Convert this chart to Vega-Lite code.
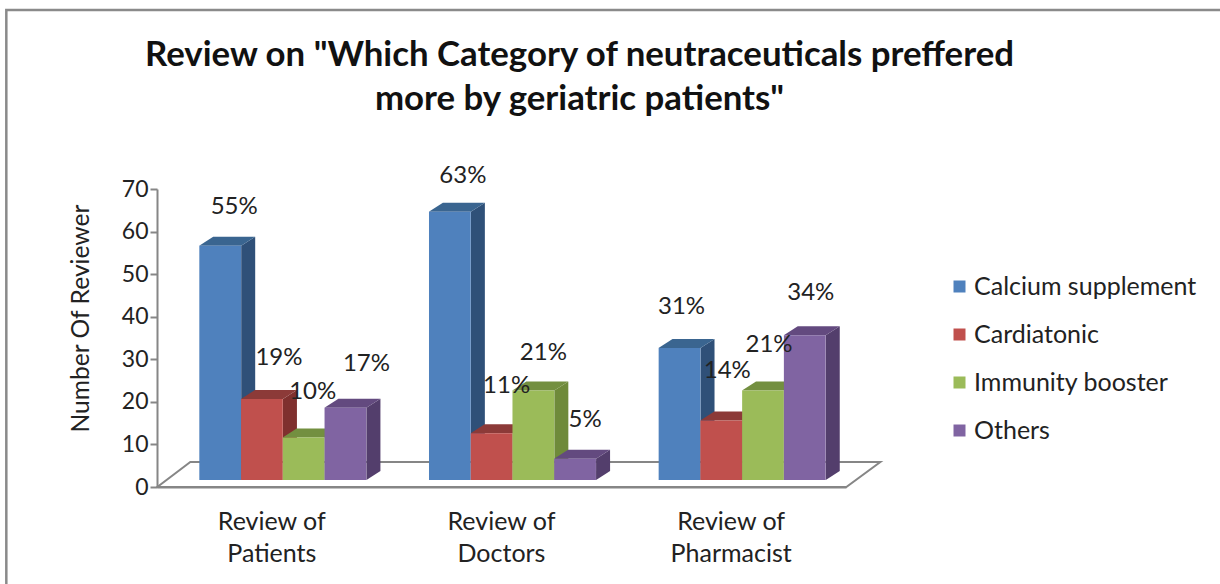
{
"$schema":"https://vega.github.io/schema/vega-lite/v6.json",
"width":689,"height":298,
"autosize":{"type":"none"},
"padding":{"left":157,"top":189,"right":374,"bottom":97},
"background":"white",
"title":{"text":["Review on \"Which Category of neutraceuticals preffered","more by geriatric patients\""],"font":"Lato","fontWeight":"bold","fontSize":34.8,"lineHeight":44,"color":"#111111","anchor":"middle","dx":78,"offset":-113},
"config":{"view":{"stroke":null},"font":"Lato"},
"data":{"values":[
{"group":"Review of Patients","series":"Calcium supplement","reviewers":55,"label":"55%"},
{"group":"Review of Patients","series":"Cardiatonic","reviewers":19,"label":"19%"},
{"group":"Review of Patients","series":"Immunity booster","reviewers":10,"label":"10%"},
{"group":"Review of Patients","series":"Others","reviewers":17,"label":"17%"},
{"group":"Review of Doctors","series":"Calcium supplement","reviewers":63,"label":"63%"},
{"group":"Review of Doctors","series":"Cardiatonic","reviewers":11,"label":"11%"},
{"group":"Review of Doctors","series":"Immunity booster","reviewers":21,"label":"21%"},
{"group":"Review of Doctors","series":"Others","reviewers":5,"label":"5%"},
{"group":"Review of Pharmacist","series":"Calcium supplement","reviewers":31,"label":"31%"},
{"group":"Review of Pharmacist","series":"Cardiatonic","reviewers":14,"label":"14%"},
{"group":"Review of Pharmacist","series":"Immunity booster","reviewers":21,"label":"21%"},
{"group":"Review of Pharmacist","series":"Others","reviewers":34,"label":"34%"}
]},
"encoding":{
"x":{"field":"group","type":"nominal","scale":{"domain":["Review of Patients","Review of Doctors","Review of Pharmacist"],"paddingInner":0.273,"paddingOuter":0.1365,"align":0.675},"axis":{"title":null,"labelAngle":0,"labelFontSize":25,"labelColor":"#222222","labelPadding":22,"ticks":false,"domainColor":"#868686","domainWidth":2,"labelExpr":"[slice(datum.label,0,9),slice(datum.label,10)]","labelLineHeight":32,"labelBaseline":"top","labelOffset":-11}},
"y":{"field":"reviewers","type":"quantitative","stack":null,"scale":{"domain":[0,70],"nice":false},"axis":{"title":"Number Of Reviewer","titleFontSize":24.6,"titleFontWeight":"normal","titleColor":"#222222","titleX":-64,"titleY":129,"values":[0,10,20,30,40,50,60,70],"grid":false,"labelFontSize":23,"labelColor":"#222222","labelPadding":2,"tickColor":"#868686","tickSize":7,"tickWidth":2,"domainColor":"#868686","domainWidth":2}},
"xOffset":{"field":"series","type":"nominal","scale":{"paddingInner":0,"paddingOuter":0}}
},
"resolve":{"scale":{"color":"independent"}},
"layer":[
{"mark":{"type":"point","shape":"M-42,0L647,0L681,-25L-9,-25Z","size":4,"filled":false,"opacity":1,"stroke":"#868686","strokeWidth":2},"transform":[{"filter":"datum.label=='55%'"}],"encoding":{"xOffset":{"value":0},"y":{"datum":0}}},
{"mark":{"type":"point","shape":"M-193,97L-193,-477L1030,-477","size":4,"filled":false,"opacity":1,"stroke":"#8a8a8a","strokeWidth":2.5},"transform":[{"filter":"datum.label=='55%'"}],"encoding":{"xOffset":{"value":0},"y":{"datum":0}}},
{"mark":{"type":"point","size":4,"filled":true,"opacity":1,"shape":{"expr":"'M21,-7L35,-16L35,'+(datum.reviewers*4.257-16)+'L21,'+(datum.reviewers*4.257-7)+'Z'"}},"encoding":{"color":{"field":"series","type":"nominal","legend":null,"scale":{"range":["#2F5078","#7F302E","#6F8A3A","#533E6C"]}}}},
{"mark":{"type":"point","shape":"M-21,-7L21,-7L35,-16L-7,-16Z","size":4,"filled":true,"opacity":1},"encoding":{"color":{"field":"series","type":"nominal","legend":null,"scale":{"range":["#3A6590","#8C3A38","#738F40","#634A7F"]}}}},
{"mark":{"type":"bar","yOffset":-7,"y2Offset":-7},"encoding":{"y2":{"datum":0},"color":{"field":"series","type":"nominal","scale":{"range":["#4F81BD","#C0504D","#9BBB59","#8064A2"]},"legend":{"title":null,"orient":"none","legendX":790,"legendY":85,"symbolType":"square","symbolSize":144,"symbolStrokeWidth":0,"labelFontSize":25,"labelColor":"#222222","labelOffset":2,"rowPadding":22,"labelLimit":300}}}},
{"mark":{"type":"text","fontSize":24,"color":"#222222","baseline":"middle","dx":14,"dy":-46},"transform":[{"filter":"datum.group=='Review of Patients'&&datum.series=='Calcium supplement'"}],"encoding":{"text":{"field":"label"}}},
{"mark":{"type":"text","fontSize":24,"color":"#222222","baseline":"middle","dx":17,"dy":-48},"transform":[{"filter":"datum.group=='Review of Patients'&&datum.series=='Cardiatonic'"}],"encoding":{"text":{"field":"label"}}},
{"mark":{"type":"text","fontSize":24,"color":"#222222","baseline":"middle","dx":9,"dy":-52},"transform":[{"filter":"datum.group=='Review of Patients'&&datum.series=='Immunity booster'"}],"encoding":{"text":{"field":"label"}}},
{"mark":{"type":"text","fontSize":24,"color":"#222222","baseline":"middle","dx":21,"dy":-51},"transform":[{"filter":"datum.group=='Review of Patients'&&datum.series=='Others'"}],"encoding":{"text":{"field":"label"}}},
{"mark":{"type":"text","fontSize":24,"color":"#222222","baseline":"middle","dx":13,"dy":-43},"transform":[{"filter":"datum.group=='Review of Doctors'&&datum.series=='Calcium supplement'"}],"encoding":{"text":{"field":"label"}}},
{"mark":{"type":"text","fontSize":24,"color":"#222222","baseline":"middle","dx":15,"dy":-54},"transform":[{"filter":"datum.group=='Review of Doctors'&&datum.series=='Cardiatonic'"}],"encoding":{"text":{"field":"label"}}},
{"mark":{"type":"text","fontSize":24,"color":"#222222","baseline":"middle","dx":10,"dy":-45},"transform":[{"filter":"datum.group=='Review of Doctors'&&datum.series=='Immunity booster'"}],"encoding":{"text":{"field":"label"}}},
{"mark":{"type":"text","fontSize":24,"color":"#222222","baseline":"middle","dx":10,"dy":-46},"transform":[{"filter":"datum.group=='Review of Doctors'&&datum.series=='Others'"}],"encoding":{"text":{"field":"label"}}},
{"mark":{"type":"text","fontSize":24,"color":"#222222","baseline":"middle","dx":2,"dy":-48},"transform":[{"filter":"datum.group=='Review of Pharmacist'&&datum.series=='Calcium supplement'"}],"encoding":{"text":{"field":"label"}}},
{"mark":{"type":"text","fontSize":24,"color":"#222222","baseline":"middle","dx":6,"dy":-56},"transform":[{"filter":"datum.group=='Review of Pharmacist'&&datum.series=='Cardiatonic'"}],"encoding":{"text":{"field":"label"}}},
{"mark":{"type":"text","fontSize":24,"color":"#222222","baseline":"middle","dx":6,"dy":-53},"transform":[{"filter":"datum.group=='Review of Pharmacist'&&datum.series=='Immunity booster'"}],"encoding":{"text":{"field":"label"}}},
{"mark":{"type":"text","fontSize":24,"color":"#222222","baseline":"middle","dx":6,"dy":-49},"transform":[{"filter":"datum.group=='Review of Pharmacist'&&datum.series=='Others'"}],"encoding":{"text":{"field":"label"}}}
]
}
